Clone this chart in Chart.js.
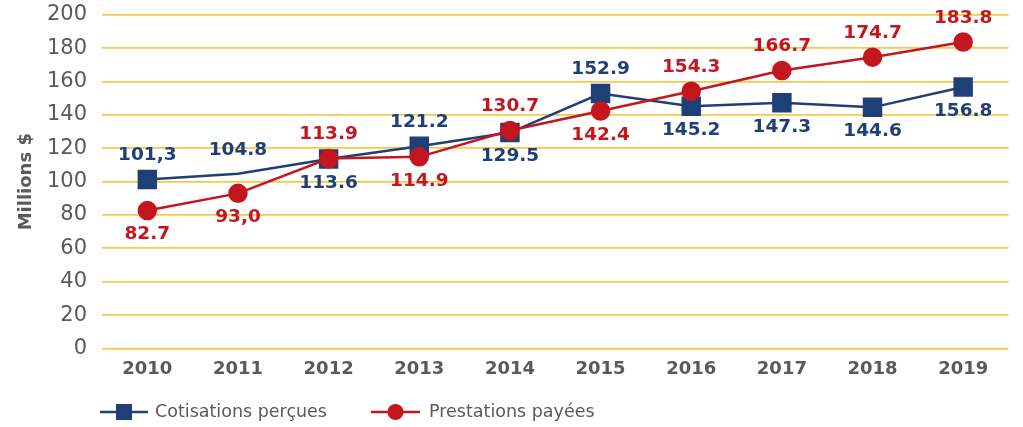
<!DOCTYPE html>
<html>
<head>
<meta charset="utf-8">
<script src="https://cdn.jsdelivr.net/npm/chart.js@4"></script>
<style>
  html, body { margin: 0; padding: 0; background: #fff; }
  #wrap { width: 1023px; height: 427px; }
</style>
</head>
<body>
<div id="wrap"><canvas id="chart" width="1023" height="427"></canvas></div>
<script>
const years = ['2010', '2011', '2012', '2013', '2014', '2015', '2016', '2017', '2018', '2019'];
const cotisations = [101.3, 104.8, 113.6, 121.2, 129.5, 152.9, 145.2, 147.3, 144.6, 156.8];
const prestations = [82.7, 93.0, 113.9, 114.9, 130.7, 142.4, 154.3, 166.7, 174.7, 183.8];
const cotisationsText = ['101,3', '104.8', '113.6', '121.2', '129.5', '152.9', '145.2', '147.3', '144.6', '156.8'];
const prestationsText = ['82.7', '93,0', '113.9', '114.9', '130.7', '142.4', '154.3', '166.7', '174.7', '183.8'];
// where each value label sits: 1 = above the point, -1 = below
const cotisationsSide = [1, 1, -1, 1, -1, 1, -1, -1, -1, -1];
const prestationsSide = [-1, -1, 1, -1, 1, -1, 1, 1, 1, 1];
const yTicks = [0, 20, 40, 60, 80, 100, 120, 140, 160, 180, 200];

const BLUE = '#1f3f77';
const RED = '#c3161f';
const GREY = '#5a5a5a';
const FONT = '"DejaVu Sans", sans-serif';

const valueLabels = {
    id: 'valueLabels',
    afterDatasetsDraw(chart) {
        const ctx = chart.ctx;
        ctx.save();
        ctx.font = 'bold 18.5px ' + FONT;
        ctx.textAlign = 'center';
        ctx.textBaseline = 'middle';
        chart.data.datasets.forEach((ds, di) => {
            const meta = chart.getDatasetMeta(di);
            meta.data.forEach((pt, i) => {
                ctx.fillStyle = ds.borderColor;
                ctx.fillText(ds.valueText[i], pt.x, pt.y - ds.labelSide[i] * 24);
            });
        });
        ctx.restore();
    }
};

const bottomLegend = {
    id: 'bottomLegend',
    afterDraw(chart) {
        const ctx = chart.ctx;
        const y = 412;
        ctx.save();
        ctx.lineWidth = 2.5;
        // blue item
        ctx.strokeStyle = BLUE;
        ctx.beginPath(); ctx.moveTo(100, y); ctx.lineTo(148, y); ctx.stroke();
        ctx.fillStyle = BLUE;
        ctx.fillRect(116, y - 8, 16, 16);
        // red item
        ctx.strokeStyle = RED;
        ctx.beginPath(); ctx.moveTo(371, y); ctx.lineTo(420, y); ctx.stroke();
        ctx.fillStyle = RED;
        ctx.beginPath(); ctx.arc(395.5, y, 8, 0, Math.PI * 2); ctx.fill();
        ctx.font = '17.5px ' + FONT;
        ctx.fillStyle = GREY;
        ctx.textBaseline = 'middle';
        ctx.fillText(chart.data.datasets[0].label, 155, y);
        ctx.fillText(chart.data.datasets[1].label, 429, y);
        ctx.restore();
    }
};

const chartArea = document.getElementById('chart');
var chart = new Chart(chartArea, {
    type: 'line',
    data: {
        labels: years,
        datasets: [{
            label: 'Cotisations perçues',
            data: cotisations,
            valueText: cotisationsText,
            labelSide: cotisationsSide,
            borderColor: BLUE,
            backgroundColor: BLUE,
            borderWidth: 2.5,
            pointStyle: 'rect',
            pointRadius: [12, 0, 12, 12, 12, 12, 12, 12, 12, 12],
            tension: 0,
            order: 1
        }, {
            label: 'Prestations payées',
            data: prestations,
            valueText: prestationsText,
            labelSide: prestationsSide,
            borderColor: RED,
            backgroundColor: RED,
            borderWidth: 2.5,
            pointStyle: 'circle',
            pointRadius: 8.5,
            tension: 0,
            order: 0
        }]
    },
    options: {
        responsive: false,
        animation: false,
        layout: { padding: { top: 15, right: 8, bottom: 37, left: 0 } },
        plugins: {
            legend: { display: false },
            tooltip: { enabled: false }
        },
        scales: {
            x: {
                offset: true,
                grid: { display: false, drawTicks: false },
                border: { display: false },
                ticks: {
                    padding: 10,
                    color: GREY,
                    font: { family: FONT, size: 18, weight: 'bold' }
                }
            },
            y: {
                min: 0,
                max: 200,
                afterBuildTicks: (s) => { s.ticks = yTicks.map(v => ({ value: v })); },
                afterFit: (s) => { s.width = 102; s.paddingTop = 0; s.paddingBottom = 0; },
                grid: { color: '#f6c947', lineWidth: 1.8, drawTicks: false },
                border: { display: false },
                ticks: {
                    padding: 15,
                    color: GREY,
                    font: { family: FONT, size: 21 }
                },
                title: {
                    display: true,
                    text: 'Millions $',
                    color: GREY,
                    padding: { top: 16, bottom: 0 },
                    font: { family: FONT, size: 18, weight: 'bold' }
                }
            }
        }
    },
    plugins: [valueLabels, bottomLegend]
});
</script>
</body>
</html>
